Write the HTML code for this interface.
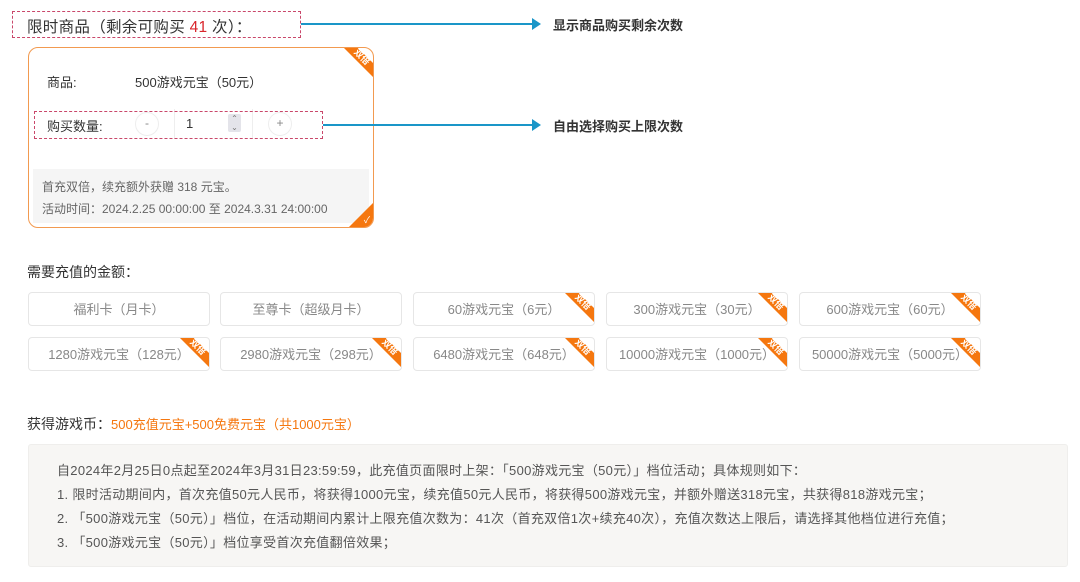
<!DOCTYPE html>
<html><head><meta charset="utf-8"><style>
*{margin:0;padding:0;box-sizing:border-box}
body{width:1080px;height:582px;background:#fff;position:relative;overflow:hidden;font-family:"Liberation Sans","Noto Sans CJK SC",sans-serif;color:#333}
.a{position:absolute;white-space:nowrap}
.badge{position:absolute;top:-1px;right:-1px;width:31px;height:31px;background:#f5770f;clip-path:polygon(0 0,45% 0,100% 55%,100% 100%);}
.bt{position:absolute;top:4px;right:-1px;width:24px;text-align:center;font-size:9px;color:#fff;transform:rotate(45deg);line-height:10px;font-weight:bold}
.btn{position:absolute;width:182px;height:34px;border:1px solid #e6e6e6;border-radius:4px;font-size:13px;color:#888;text-align:center;line-height:34px;overflow:hidden}
.dash{position:absolute;border:1.5px dashed #c9476a}
.line{position:absolute;height:2px;background:#1a96c8}
.arr{position:absolute;width:0;height:0;border-top:6px solid transparent;border-bottom:6px solid transparent;border-left:9px solid #1a96c8}
.lbl{position:absolute;font-size:13px;font-weight:bold;color:#333}
.info{font-size:13px;letter-spacing:0.3px;color:#555;line-height:24px}
</style></head><body>
<div class="dash" style="left:12px;top:11px;width:289px;height:27px"></div>
<div class="a" style="left:27px;top:15px;font-size:15.5px;color:#333;letter-spacing:0.3px">限时商品（剩余可购买 <span style="color:#d9262c">41</span> 次）：</div>
<div class="line" style="left:301px;top:23px;width:232px"></div><div class="arr" style="left:532px;top:18px"></div>
<div class="lbl" style="left:553px;top:15px">显示商品购买剩余次数</div>

<div class="a" style="left:28px;top:47px;width:346px;height:181px;border:1.5px solid #f29a50;border-radius:10px;overflow:hidden">
 <div class="badge"></div><div class="bt">双倍</div>
 <div class="a" style="left:18px;top:24px;font-size:13px">商品:</div>
 <div class="a" style="left:106px;top:24px;font-size:13px">500游戏元宝（50元）</div>
 <div class="a" style="left:18px;top:68px;font-size:13px">购买数量:</div>
 <div class="a" style="left:106px;top:64px;width:24px;height:24px;border:1px solid #eee;border-radius:50%;text-align:center;line-height:21px;font-size:12px;color:#888">-</div>
 <div class="a" style="left:145px;top:61px;width:1px;height:30px;background:#eee"></div>
 <div class="a" style="left:157px;top:68px;font-size:13px">1</div>
 <div class="a" style="left:199px;top:66px;width:13px;height:18px;background:#e4e4ea;border-radius:2px;font-size:8px;text-align:center;line-height:9px;color:#777">⌃<br>⌄</div>
 <div class="a" style="left:223px;top:61px;width:1px;height:30px;background:#eee"></div>
 <div class="a" style="left:239px;top:64px;width:24px;height:24px;border:1px solid #eee;border-radius:50%;text-align:center;line-height:21px;font-size:12px;color:#888">+</div>
 <div class="a" style="left:4px;top:121px;width:336px;height:54px;background:#f5f5f5"></div>
 <div class="a" style="left:13px;top:130px;font-size:12px;color:#666">首充双倍，续充额外获赠 318 元宝。</div>
 <div class="a" style="left:13px;top:152px;font-size:12px;color:#666">活动时间：2024.2.25 00:00:00 至 2024.3.31 24:00:00</div>
 <div class="a" style="right:-1px;bottom:-1px;width:26px;height:26px;background:#f5770f;clip-path:polygon(100% 0,100% 100%,0 100%)"></div>
 <div class="a" style="right:3px;bottom:1px;font-size:9px;color:#fff">✓</div>
</div>
<div class="dash" style="left:34px;top:111px;width:289px;height:28px"></div>
<div class="line" style="left:323px;top:124px;width:210px"></div><div class="arr" style="left:532px;top:119px"></div>
<div class="lbl" style="left:553px;top:116px">自由选择购买上限次数</div>

<div class="a" style="left:27px;top:262px;font-size:14px">需要充值的金额：</div>
<div class="btn" style="left:28px;top:292px">福利卡（月卡）</div>
<div class="btn" style="left:220px;top:292px">至尊卡（超级月卡）</div>
<div class="btn" style="left:413px;top:292px">60游戏元宝（6元）<div class="badge"></div><div class="bt">双倍</div></div>
<div class="btn" style="left:606px;top:292px">300游戏元宝（30元）<div class="badge"></div><div class="bt">双倍</div></div>
<div class="btn" style="left:799px;top:292px">600游戏元宝（60元）<div class="badge"></div><div class="bt">双倍</div></div>
<div class="btn" style="left:28px;top:337px">1280游戏元宝（128元）<div class="badge"></div><div class="bt">双倍</div></div>
<div class="btn" style="left:220px;top:337px">2980游戏元宝（298元）<div class="badge"></div><div class="bt">双倍</div></div>
<div class="btn" style="left:413px;top:337px">6480游戏元宝（648元）<div class="badge"></div><div class="bt">双倍</div></div>
<div class="btn" style="left:606px;top:337px">10000游戏元宝（1000元）<div class="badge"></div><div class="bt">双倍</div></div>
<div class="btn" style="left:799px;top:337px">50000游戏元宝（5000元）<div class="badge"></div><div class="bt">双倍</div></div>

<div class="a" style="left:27px;top:414px;font-size:14px">获得游戏币：<span style="font-size:13px;color:#f5770f">500充值元宝+500免费元宝（共1000元宝）</span></div>
<div class="a" style="left:28px;top:444px;width:1040px;height:123px;background:#f7f6f4;border:1px solid #efeeec;border-radius:3px"></div>
<div class="a info" style="left:57px;top:459px">自2024年2月25日0点起至2024年3月31日23:59:59，此充值页面限时上架：「500游戏元宝（50元）」档位活动；具体规则如下：<br>1. 限时活动期间内，首次充值50元人民币，将获得1000元宝，续充值50元人民币，将获得500游戏元宝，并额外赠送318元宝，共获得818游戏元宝；<br>2. 「500游戏元宝（50元）」档位，在活动期间内累计上限充值次数为：41次（首充双倍1次+续充40次），充值次数达上限后，请选择其他档位进行充值；<br>3. 「500游戏元宝（50元）」档位享受首次充值翻倍效果；</div>
</body></html>
